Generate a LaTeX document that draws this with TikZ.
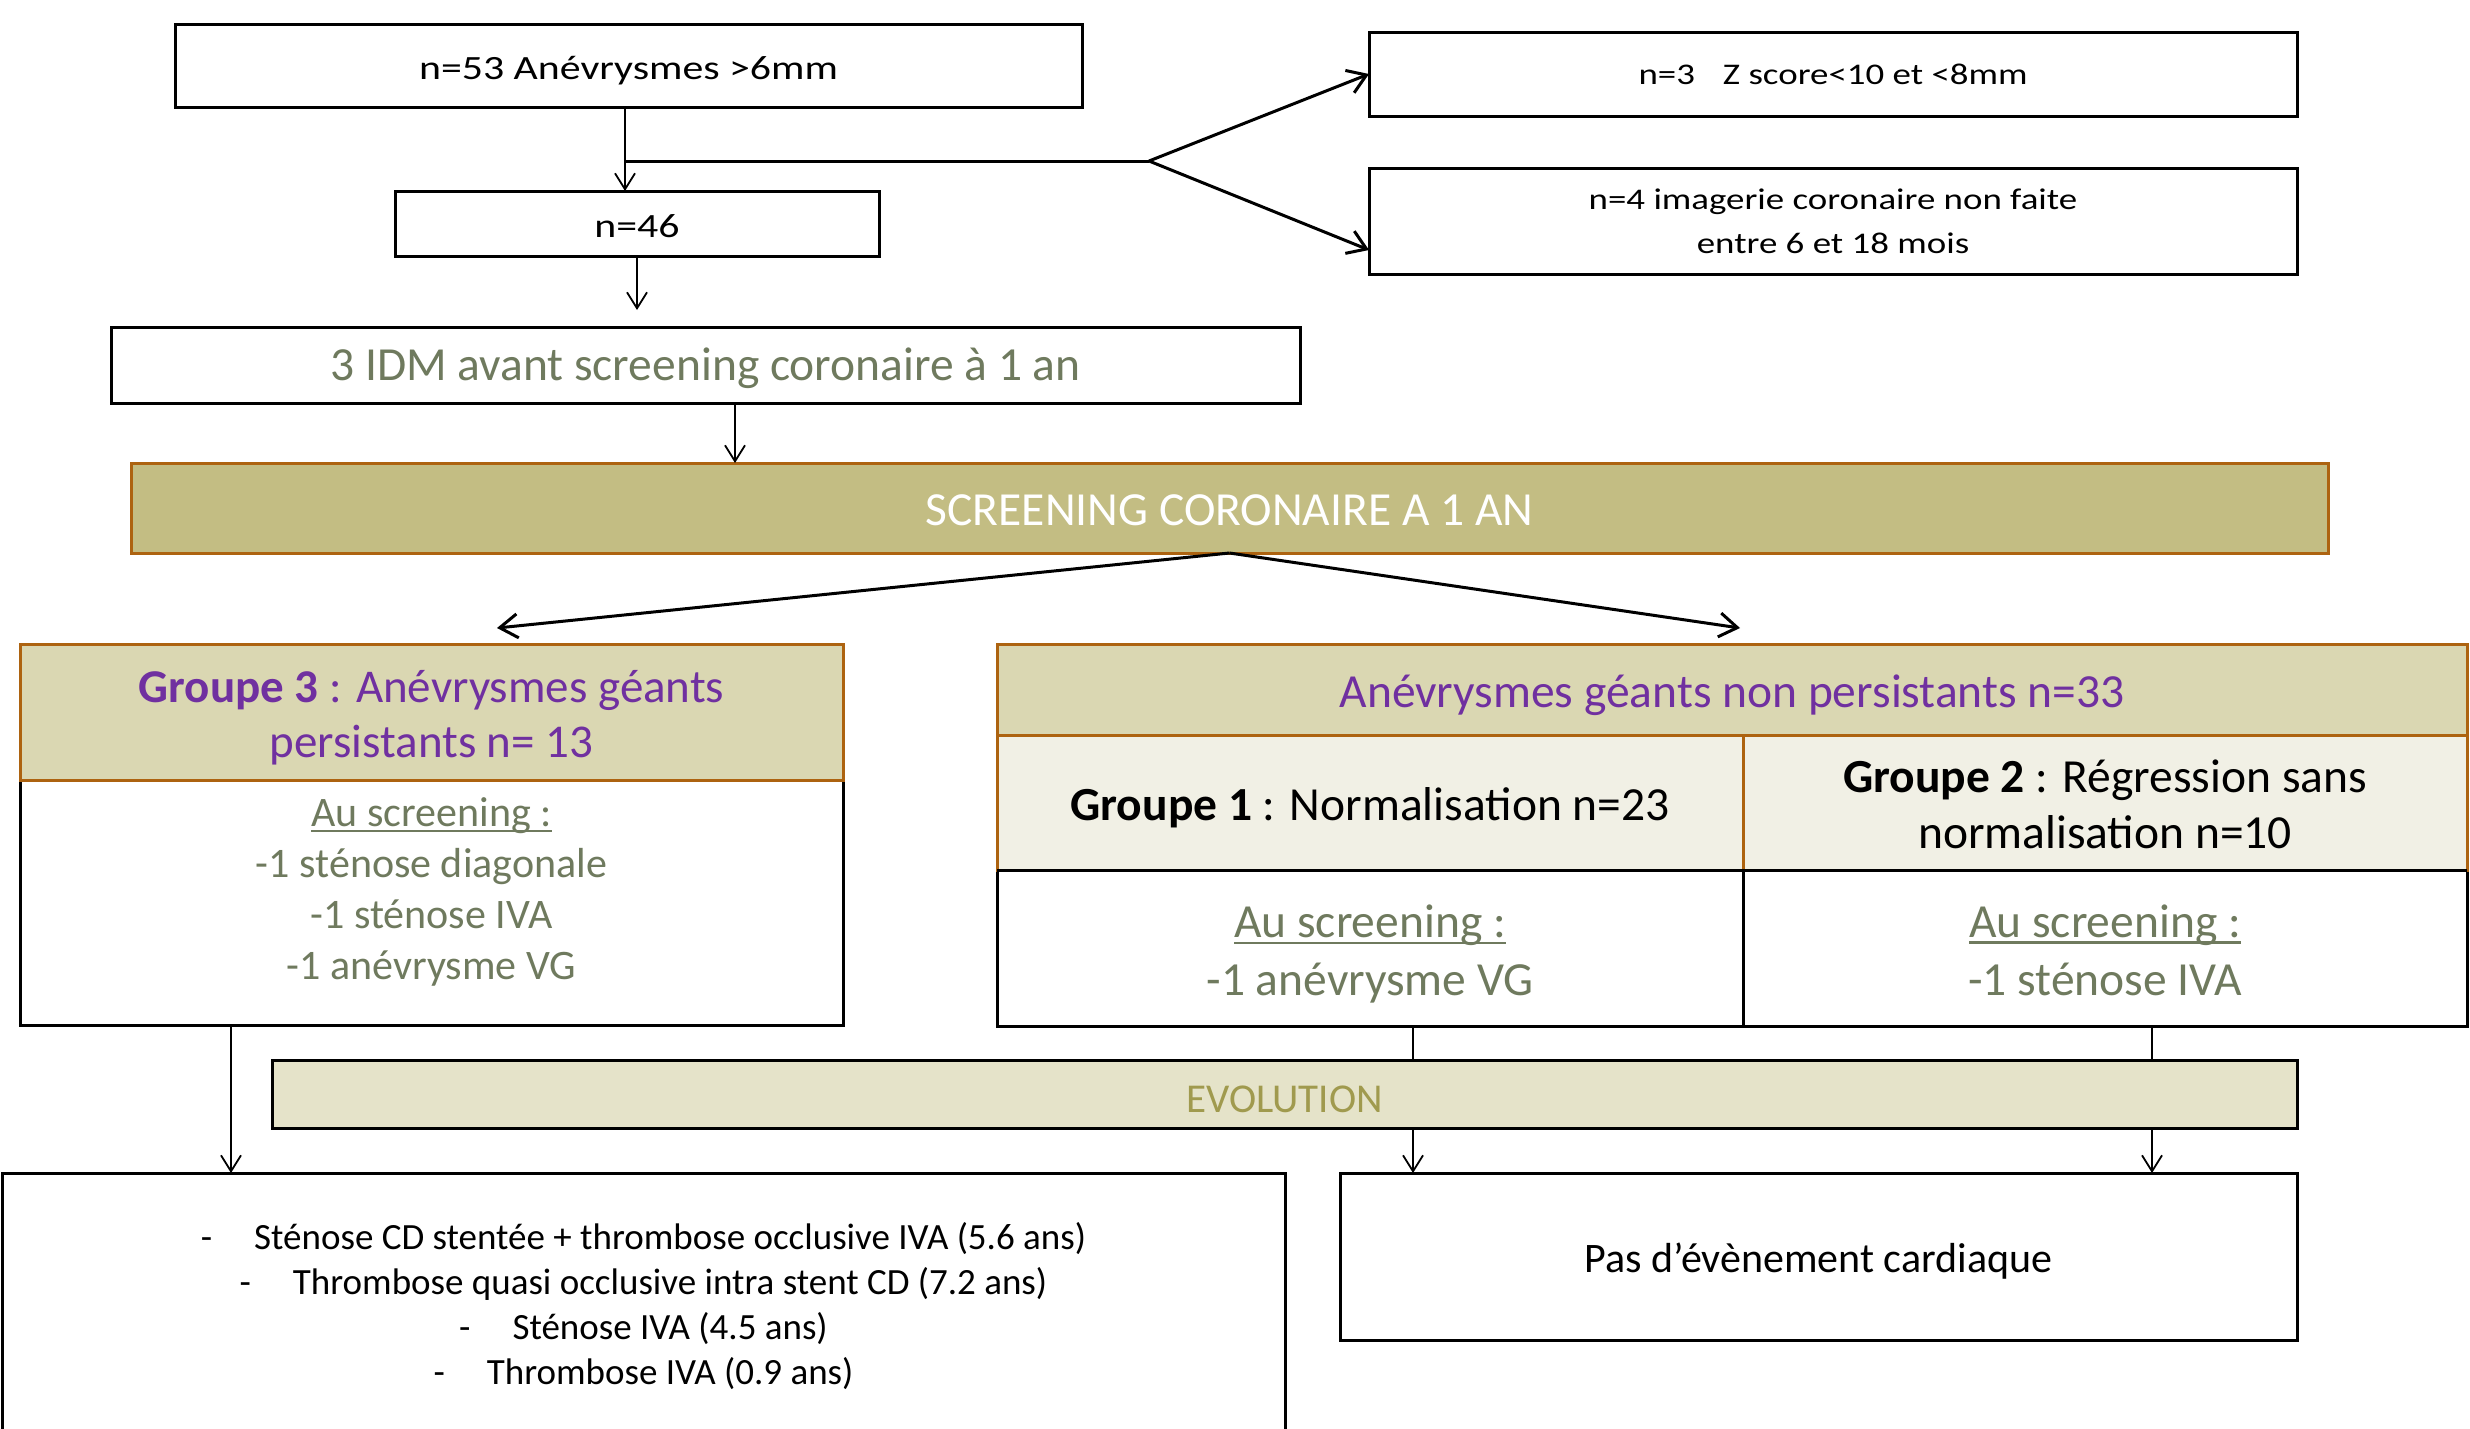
\documentclass[tikz,border=0pt]{standalone}
\usepackage{fontspec}
\setmainfont{Carlito}
\newfontfamily\widefont{Carlito}[FakeStretch=1.23]
\usetikzlibrary{arrows.meta}
\definecolor{khaki}{HTML}{C3BD83}
\definecolor{hdr}{HTML}{DAD7B2}
\definecolor{subr}{HTML}{F1F0E5}
\definecolor{evo}{HTML}{E5E3C9}
\definecolor{orb}{HTML}{AD6310}
\definecolor{purp}{HTML}{7030A0}
\definecolor{gg}{HTML}{6F7A5E}
\definecolor{olv}{HTML}{A09A4E}
\newcommand\fs[2]{\fontsize{#1}{#2}\selectfont}
\newcommand\myul[1]{\setbox0=\hbox{#1}\rlap{\rule[-0.14em]{\wd0}{0.055em}}\box0}
\tikzset{
  box/.style={draw=black, line width=3pt, inner sep=0pt, outer sep=0pt},
  obox/.style={draw=orb, line width=3pt, inner sep=0pt, outer sep=0pt},
  txt/.style={inner sep=0pt, outer sep=0pt, align=center},
  arr/.style={line width=1.8pt, -{Straight Barb[length=16pt,width=20pt]}},
  arrb/.style={line width=3pt, -{Straight Barb[length=18pt,width=24pt]}},
  plain/.style={line width=1.8pt},
}
\begin{document}
\begin{tikzpicture}[x=1pt,y=-1pt]
\path[use as bounding box, clip] (0,0) rectangle (2470,1428);
\fill[white] (0,0) rectangle (2470,1428);

% top boxes
\node[box, minimum width=907pt, minimum height=83pt] (A) at (628.5,65.5) {};
\node[txt, font={\widefont\fs{34}{41}}] (At) at ([yshift=-5pt]A.center) {n=53 Anévrysmes >6mm};
\node[box, minimum width=484pt, minimum height=65pt] (B) at (637,223.5) {};
\node[txt, font={\widefont\fs{34}{41}}] (Bt) at ([yshift=-3pt]B.center) {n=46};
\node[box, minimum width=928pt, minimum height=84pt] (C) at (1833,74) {};
\node[txt, font={\widefont\fs{30}{44}}] (Ct) at (C.center) {n=3\hspace{28pt}Z score<10 et <8mm};
\node[box, minimum width=928pt, minimum height=106pt] (D) at (1833,221) {};
\node[txt, font={\widefont\fs{30}{44}}] (Dt) at (D.center) {n=4 imagerie coronaire non faite\\entre 6 et 18 mois};
\node[box, minimum width=1189pt, minimum height=76pt] (E) at (705.5,365) {};
\node[txt, text=gg, font={\fs{47.5}{57}}] (Et) at ([yshift=-3pt]E.center) {3 IDM avant screening coronaire à 1 an};
\node[obox, fill=khaki, minimum width=2197pt, minimum height=90pt] (F) at (1229.5,508) {};
\node[txt, text=white, font={\fs{47.5}{57}}] (Ft) at ([yshift=-2pt]F.center) {SCREENING CORONAIRE A 1 AN};

% Groupe 3
\node[box, minimum width=823pt, minimum height=245pt] (Gb) at (431.5,902.5) {};
\node[txt, text=gg, font={\fs{42}{51}}] (Gbt) at ([yshift=11pt]Gb.center)
  {\myul{Au screening :}\\-1 sténose diagonale\\-1 sténose IVA\\-1 anévrysme VG};
\node[obox, fill=hdr, minimum width=823pt, minimum height=136pt] (G) at (431.5,712) {};
\node[txt, text=purp, font={\fs{47}{55}}] (Gt) at ([yshift=-6pt]G.center)
  {\textbf{Groupe 3} : Anévrysmes géants\\persistants n= 13};

% non persistants
\node[box, minimum width=746pt, minimum height=156pt] (H1b) at (1370,948) {};
\node[txt, text=gg, font={\fs{47.5}{58}}] (H1bt) at ([yshift=-6pt]H1b.center)
  {\myul{Au screening :}\\-1 anévrysme VG};
\node[box, minimum width=724pt, minimum height=156pt] (H2b) at (2105,948) {};
\node[txt, text=gg, font={\fs{47.5}{58}}] (H2bt) at ([yshift=-2pt]H2b.center)
  {\myul{Au screening :}\\-1 sténose IVA};
\node[obox, fill=subr, minimum width=746pt, minimum height=135pt] (H1) at (1370,802.5) {};
\node[txt, font={\fs{47.5}{56}}] (H1t) at ([yshift=-5pt]H1.center) {\textbf{Groupe 1} : Normalisation n=23};
\node[obox, fill=subr, minimum width=724pt, minimum height=135pt] (H2) at (2105,802.5) {};
\node[txt, font={\fs{47.5}{56}}] (H2t) at ([yshift=-2pt]H2.center) {\textbf{Groupe 2} : Régression sans\\normalisation n=10};
\draw[line width=3pt] (H1.south west) -- (H2.south east);
\node[obox, fill=hdr, minimum width=1470pt, minimum height=91pt] (H) at (1732,689.5) {};
\node[txt, text=purp, font={\fs{47.5}{57}}] (Ht) at ([yshift=-6pt]H.center) {Anévrysmes géants non persistants n=33};

% evolution
\node[box, fill=evo, minimum width=2025pt, minimum height=68pt] (EVO) at (1284.5,1094) {};
\node[txt, text=olv, font={\fs{41}{48}}] (EVOt) at ([yshift=-5pt]EVO.center) {EVOLUTION};
\node[box, minimum width=1283pt, minimum height=262pt] (I) at (643.5,1304) {};
\node[txt, font={\fs{37}{44.7}}] (It) at ([yshift=-2pt]I.center)
  {-\hspace{42pt}Sténose CD stentée + thrombose occlusive IVA (5.6 ans)\\
   -\hspace{42pt}Thrombose quasi occlusive intra stent CD (7.2 ans)\\
   -\hspace{42pt}Sténose IVA (4.5 ans)\\
   -\hspace{42pt}Thrombose IVA (0.9 ans)};
\node[box, minimum width=957pt, minimum height=167pt] (J) at (1818.5,1256.5) {};
\node[txt, font={\fs{42}{50}}] (Jt) at ([yshift=-5pt]J.center) {Pas d’évènement cardiaque};

% connectors
\coordinate (ab) at ([xshift=-3.5pt]A.south);
\draw[arr] (ab) -- (ab |- B.north);
\coordinate (br) at (625,161);
\coordinate (fork) at (1149,161);
\draw[line width=3pt] (br) -- (fork);
\draw[arrb] (fork) -- (C.west);
\draw[arrb] (fork) -- ([yshift=-29pt]D.west);
\draw[arr] (B.south) -- ([yshift=17pt]B.south |- E.north);
\coordinate (ef) at ([xshift=29.5pt]E.south);
\draw[arr] (ef) -- (ef |- F.north);
\draw[arrb] (F.south) -- ([shift={(65.5,-16)}]G.north);
\draw[arrb] (F.south) -- ([shift={(8,-16)}]H.north);
\coordinate (gi) at ([xshift=-200.5pt]Gb.south);
\draw[arr] (gi) -- (gi |- I.north);
\coordinate (h1e) at ([xshift=43pt]H1b.south);
\coordinate (h2e) at ([xshift=47pt]H2b.south);
\draw[plain] (h1e) -- (h1e |- EVO.north);
\draw[plain] (h2e) -- (h2e |- EVO.north);
\draw[arr] (h1e |- EVO.south) -- (h1e |- J.north);
\draw[arr] (h2e |- EVO.south) -- (h2e |- J.north);
\end{tikzpicture}
\end{document}
